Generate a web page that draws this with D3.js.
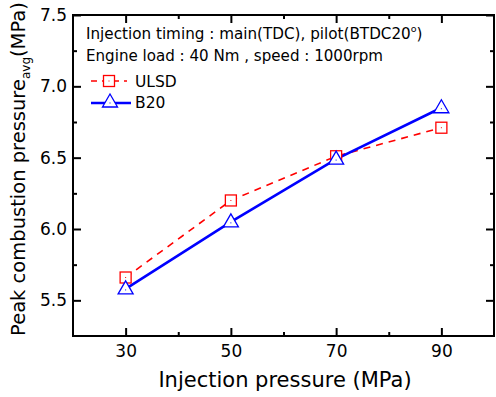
<!DOCTYPE html>
<html><head><meta charset="utf-8">
<script src="https://cdn.jsdelivr.net/npm/d3@7"></script>
<style>body{margin:0;background:#fff}svg{display:block}text{font-family:"DejaVu Sans",Verdana,sans-serif}</style>
</head><body><svg id="c" width="496" height="397"></svg>
<script>
const pressures = [30, 50, 70, 90];
const ulsd = [5.66, 6.20, 6.51, 6.71];
const b20 = [5.58, 6.05, 6.49, 6.85];
const xTicks = [30, 50, 70, 90];
const xMinor = [40, 60, 80];
const yTicks = [5.5, 6.0, 6.5, 7.0, 7.5];
const yMinor = [5.75, 6.25, 6.75, 7.25];

const svg = d3.select("#c");
const L = 73, R = 494, T = 15, B = 336;
const x = d3.scaleLinear().domain([20, 100]).range([L, R]);
const y = d3.scaleLinear().domain([5.25, 7.5]).range([B, T]);

// axes
const ax = svg.append("g");
ax.append("g").attr("transform", `translate(0,${B})`)
  .call(d3.axisBottom(x).tickValues(xTicks).tickSizeInner(-8).tickSizeOuter(0).tickPadding(9).tickFormat(d3.format("d")));
ax.append("g").attr("transform", `translate(0,${B})`)
  .call(d3.axisBottom(x).tickValues(xMinor).tickSizeInner(-4).tickSizeOuter(0).tickFormat(""));
ax.append("g").attr("transform", `translate(${L},0)`)
  .call(d3.axisLeft(y).tickValues(yTicks).tickSizeInner(-8).tickSizeOuter(0).tickPadding(6).tickFormat(d3.format(".1f")));
ax.append("g").attr("transform", `translate(${L},0)`)
  .call(d3.axisLeft(y).tickValues(yMinor).tickSizeInner(-4).tickSizeOuter(0).tickFormat(""));
ax.append("g").attr("transform", `translate(0,${T})`)
  .call(d3.axisTop(x).tickValues(xTicks).tickSizeInner(-8).tickSizeOuter(0).tickFormat(""));
ax.append("g").attr("transform", `translate(0,${T})`)
  .call(d3.axisTop(x).tickValues(xMinor).tickSizeInner(-4).tickSizeOuter(0).tickFormat(""));
ax.append("g").attr("transform", `translate(${R},0)`)
  .call(d3.axisRight(y).tickValues(yTicks).tickSizeInner(-8).tickSizeOuter(0).tickFormat(""));
ax.append("g").attr("transform", `translate(${R},0)`)
  .call(d3.axisRight(y).tickValues(yMinor).tickSizeInner(-4).tickSizeOuter(0).tickFormat(""));
ax.selectAll(".domain").remove();
ax.selectAll(".tick line").attr("stroke", "#000").attr("stroke-width", 2);
ax.selectAll(".tick text").attr("font-size", 17).attr("fill", "#000").attr("font-family", '"DejaVu Sans",Verdana,sans-serif');
svg.append("rect").attr("x", L).attr("y", T).attr("width", R - L).attr("height", B - T)
  .attr("fill", "none").attr("stroke", "#000").attr("stroke-width", 2);

// axis titles
svg.append("text").attr("x", 285).attr("y", 387).attr("text-anchor", "middle")
  .attr("font-size", 21).text("Injection pressure (MPa)");
const yt = svg.append("text").attr("transform", "translate(25,169) rotate(-90)").attr("text-anchor", "middle")
  .attr("font-size", 19.5);
yt.append("tspan").text("Peak combustion pressure");
yt.append("tspan").attr("font-size", 12).attr("dy", 5).text("avg");
yt.append("tspan").attr("dy", -5).text("(MPa)");

// annotation
const a1 = svg.append("text").attr("x", 86).attr("y", 39).attr("font-size", 15.2);
a1.append("tspan").text("Injection timing : main(TDC), pilot(BTDC20");
a1.append("tspan").attr("font-size", 9.5).attr("dy", -7).text("o");
a1.append("tspan").attr("dy", 7).text(")");
svg.append("text").attr("x", 86).attr("y", 61).attr("font-size", 15.1).text("Engine load : 40 Nm , speed : 1000rpm");

// lines
const line = d3.line().x((d, i) => x(pressures[i])).y(d => y(d));
svg.append("path").datum(ulsd).attr("d", line).attr("fill", "none").attr("stroke", "#ff0000")
  .attr("stroke-width", 1.6).attr("stroke-dasharray", "7,6");
svg.append("path").datum(b20).attr("d", line).attr("fill", "none").attr("stroke", "#0000ff")
  .attr("stroke-width", 2.6);

function square(g, cx, cy) {
  g.append("rect").attr("x", cx - 5.5).attr("y", cy - 5.5).attr("width", 11).attr("height", 11)
    .attr("fill", "#fff").attr("stroke", "#ff0000").attr("stroke-width", 1.3);
  g.append("rect").attr("x", cx - 0.5).attr("y", cy - 0.5).attr("width", 1).attr("height", 1).attr("fill", "#ff0000");
}
function tri(g, cx, cy) {
  g.append("path").attr("d", `M${cx},${cy - 8}L${cx + 7.5},${cy + 5}L${cx - 7.5},${cy + 5}Z`)
    .attr("fill", "#fff").attr("stroke", "#0000ff").attr("stroke-width", 1.3);
  g.append("rect").attr("x", cx - 0.5).attr("y", cy + 0.5).attr("width", 1).attr("height", 1).attr("fill", "#0000ff");
}
const mk = svg.append("g");
ulsd.forEach((v, i) => square(mk, x(pressures[i]), y(v)));
b20.forEach((v, i) => tri(mk, x(pressures[i]), y(v)));

// legend
const lg = svg.append("g");
lg.append("line").attr("x1", 91).attr("x2", 127).attr("y1", 81).attr("y2", 81)
  .attr("stroke", "#ff0000").attr("stroke-width", 1.6).attr("stroke-dasharray", "6,5");
square(lg, 109, 81);
lg.append("text").attr("x", 135).attr("y", 87).attr("font-size", 15.5).text("ULSD");
lg.append("line").attr("x1", 91).attr("x2", 131).attr("y1", 103).attr("y2", 103)
  .attr("stroke", "#0000ff").attr("stroke-width", 2.6);
tri(lg, 110, 102);
lg.append("text").attr("x", 135).attr("y", 108).attr("font-size", 15.5).text("B20");
</script></body></html>
